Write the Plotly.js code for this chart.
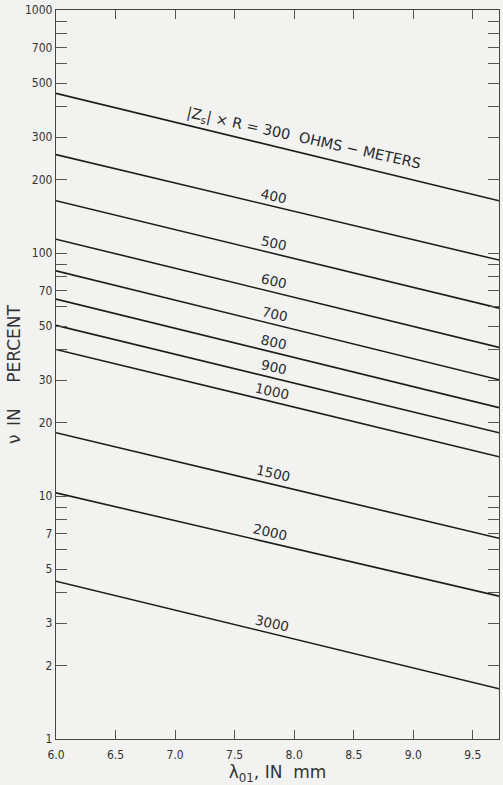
<!DOCTYPE html>
<html>
<head>
<meta charset="utf-8">
<script src="https://cdn.plot.ly/plotly-3.0.1.min.js"></script>
<style>
  html, body { margin: 0; padding: 0; background: #f2f2f0; }
  #chart { width: 503px; height: 785px; }
</style>
</head>
<body>
<div id="chart"></div>
<script>
// |Zs| x R values (ohms-meters) for each curve
const zValues = [300, 400, 500, 600, 700, 800, 900, 1000, 1500, 2000, 3000];
// wavelength range (mm) at which values were read
const lambdaEnds = [6.0, 9.72];
// nu (percent) at lambda = 6.0 mm
const nuAtStart = [454, 254, 164, 114, 84.4, 64.6, 50.4, 40.1, 18.2, 10.3, 4.46];
// nu (percent) at lambda = 9.72 mm
const nuAtEnd = [164, 93.5, 59.3, 40.9, 30.1, 23.1, 18.2, 14.5, 6.7, 3.87, 1.61];

const xTickVals = [6.0, 6.5, 7.0, 7.5, 8.0, 8.5, 9.0, 9.5];
const xTickText = ['6.0', '6.5', '7.0', '7.5', '8.0', '8.5', '9.0', '9.5'];

const yTickVals = [];
const yTickText = [];
[1, 10, 100].forEach(d => {
  for (let n = 1; n <= 9; n++) {
    yTickVals.push(n * d);
    yTickText.push([1, 2, 3, 5, 7].includes(n) ? String(n * d) : '');
  }
});
yTickVals.push(1000); yTickText.push('1000');

const lineColor = '#1e1e1e';
const traces = zValues.map((z, i) => ({
  type: 'scatter', mode: 'lines',
  x: lambdaEnds,
  y: [nuAtStart[i], nuAtEnd[i]],
  line: { color: lineColor, width: 1.6 },
  hoverinfo: 'skip', showlegend: false
}));

// label placement along each curve (x in mm)
const labelX = [8.08, 7.83, 7.83, 7.83, 7.84, 7.83, 7.83, 7.81, 7.82, 7.80, 7.81];
function logOnLine(i, x) {
  const t = (x - lambdaEnds[0]) / (lambdaEnds[1] - lambdaEnds[0]);
  const a = Math.log10(nuAtStart[i]), b = Math.log10(nuAtEnd[i]);
  return a + (b - a) * t;
}
const labelFont = { family: 'DejaVu Sans, Liberation Sans, sans-serif', size: 13.5, color: '#2a2a2a' };
const annotations = zValues.map((z, i) => ({
  xref: 'x', yref: 'y',
  x: labelX[i], y: logOnLine(i, labelX[i]),
  yshift: i === 0 ? 14 : 11,
  text: i === 0 ? '|Z<sub>s</sub>| × R = 300  OHMS − METERS' : String(z),
  showarrow: false, textangle: 12.5,
  font: i === 0 ? Object.assign({}, labelFont, { size: 14.5 }) : labelFont
}));

const tickFont = { family: "'Liberation Sans Narrow', 'DejaVu Sans Condensed', 'Arial Narrow', sans-serif", size: 12, color: '#333' };
const titleFont = { family: 'DejaVu Sans, Liberation Sans, sans-serif', size: 17, color: '#333' };

const layout = {
  width: 503, height: 785,
  margin: { l: 56, r: 4, t: 10, b: 46 },
  paper_bgcolor: '#f2f2f0', plot_bgcolor: '#f2f2f0',
  showlegend: false,
  xaxis: {
    type: 'linear', range: [6.0, 9.72],
    tickmode: 'array', tickvals: xTickVals, ticktext: xTickText,
    ticks: 'inside', ticklen: 9, tickwidth: 1, tickcolor: '#555',
    showline: true, linecolor: '#444', linewidth: 1.2, mirror: 'ticks',
    showgrid: false, zeroline: false,
    tickfont: tickFont, ticklabelstandoff: 4,
    title: { text: 'λ<sub>01</sub>, IN  mm', font: Object.assign({}, titleFont, { size: 17 }), standoff: 12 }
  },
  yaxis: {
    type: 'log', range: [0, 3],
    tickmode: 'array', tickvals: yTickVals, ticktext: yTickText,
    ticks: 'inside', ticklen: 11, tickwidth: 1, tickcolor: '#555',
    showline: true, linecolor: '#444', linewidth: 1.2, mirror: 'ticks',
    showgrid: false, zeroline: false,
    tickfont: tickFont,
    title: { text: 'ν\u2002IN\u2003\u2002PERCENT', font: titleFont, standoff: 0 }
  },
  annotations: annotations
};

Plotly.newPlot('chart', traces, layout, { staticPlot: true, displayModeBar: false });
</script>
</body>
</html>
